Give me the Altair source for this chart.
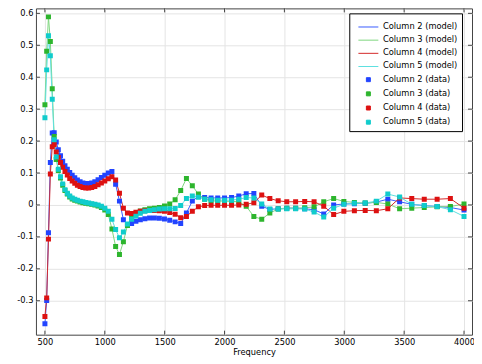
import altair as alt
import pandas as pd

freq = [500.0, 514.7, 529.7, 545.3, 561.2, 577.6, 594.6, 612.0, 630.0, 648.4, 667.4, 687.0,
        707.1, 727.8, 749.2, 771.1, 793.7, 817.0, 840.9, 865.5, 890.9, 917.0, 943.9, 971.5,
        1000.0, 1029.3, 1059.5, 1090.5, 1122.5, 1155.4, 1189.2, 1224.1, 1259.9, 1296.8, 1334.8, 1373.9,
        1414.2, 1455.6, 1498.3, 1542.2, 1587.4, 1633.9, 1681.8, 1731.0, 1781.8, 1834.0, 1887.7, 1943.0,
        2000.0, 2058.6, 2118.9, 2181.0, 2244.9, 2310.7, 2378.4, 2448.1, 2519.8, 2593.7, 2669.6, 2747.9,
        2828.4, 2911.3, 2996.6, 3084.4, 3174.8, 3267.8, 3363.6, 3462.1, 3563.6, 3668.0, 3775.5, 3886.1,
        4000.0]

col2 = [-0.372, -0.299, -0.087, 0.133, 0.225, 0.226, 0.197, 0.173, 0.154, 0.137, 0.123, 0.112,
        0.102, 0.093, 0.085, 0.078, 0.073, 0.069, 0.067, 0.067, 0.069, 0.073, 0.079, 0.086,
        0.093, 0.100, 0.105, 0.065, 0.012, -0.046, -0.063, -0.058, -0.051, -0.046, -0.043, -0.041,
        -0.041, -0.042, -0.044, -0.048, -0.053, -0.058, -0.025, 0.012, 0.027, 0.023, 0.022, 0.022,
        0.022, 0.023, 0.028, 0.035, 0.036, -0.004, -0.014, -0.012, -0.010, -0.010, -0.012, -0.015,
        -0.028, 0.000, 0.003, 0.004, 0.005, 0.009, 0.018, 0.010, 0.002, -0.002, -0.005, -0.008,
        -0.016]

col3 = [0.314, 0.481, 0.589, 0.512, 0.364, 0.214, 0.142, 0.108, 0.084, 0.062, 0.045, 0.034,
        0.025, 0.019, 0.015, 0.012, 0.009, 0.007, 0.005, 0.004, 0.002, 0.000, -0.003, -0.008,
        -0.016, -0.030, -0.075, -0.130, -0.155, -0.115, -0.064, -0.040, -0.028, -0.019, -0.015, -0.012,
        -0.010, -0.008, -0.003, 0.003, 0.016, 0.045, 0.083, 0.060, 0.034, 0.018, 0.013, 0.012,
        0.012, 0.011, 0.010, -0.004, -0.036, -0.045, -0.025, -0.013, -0.010, -0.010, -0.009, -0.006,
        0.010, 0.020, 0.011, 0.008, 0.006, 0.008, 0.003, -0.012, -0.010, -0.008, -0.006, -0.005,
        0.003]

col4 = [-0.349, -0.291, -0.107, 0.097, 0.182, 0.189, 0.166, 0.149, 0.133, 0.118, 0.105, 0.094,
        0.083, 0.075, 0.068, 0.062, 0.058, 0.055, 0.053, 0.053, 0.055, 0.058, 0.063, 0.069,
        0.075, 0.082, 0.088, 0.078, 0.037, -0.010, -0.025, -0.027, -0.023, -0.020, -0.018, -0.017,
        -0.017, -0.018, -0.020, -0.024, -0.029, -0.040, -0.036, -0.020, -0.006, -0.002, -0.001, -0.001,
        -0.001, -0.001, 0.000, 0.002, 0.007, 0.031, 0.020, 0.013, 0.010, 0.010, 0.011, 0.010,
        -0.004, -0.030, -0.020, -0.018, -0.017, -0.018, -0.012, 0.022, 0.020, 0.018, 0.018, 0.020,
        -0.010]

col5 = [0.273, 0.423, 0.530, 0.467, 0.331, 0.204, 0.150, 0.112, 0.088, 0.066, 0.048, 0.037,
        0.028, 0.022, 0.018, 0.015, 0.012, 0.010, 0.008, 0.006, 0.004, 0.002, 0.000, -0.004,
        -0.010, -0.020, -0.045, -0.077, -0.103, -0.085, -0.060, -0.045, -0.035, -0.026, -0.020, -0.017,
        -0.015, -0.013, -0.012, -0.012, -0.011, -0.002, 0.020, 0.028, 0.024, 0.018, 0.016, 0.015,
        0.015, 0.015, 0.018, 0.023, 0.022, 0.003, -0.013, -0.013, -0.012, -0.012, -0.013, -0.022,
        -0.038, -0.010, 0.002, 0.005, 0.006, 0.012, 0.034, 0.025, 0.002, -0.002, -0.005, -0.015,
        -0.036]

model_names = ["Column 2 (model)", "Column 3 (model)", "Column 4 (model)", "Column 5 (model)"]
data_names = ["Column 2 (data)", "Column 3 (data)", "Column 4 (data)", "Column 5 (data)"]
model_colors = ["#3a5cff", "#7fd67f", "#d42a2a", "#5ee0e0"]
data_colors = ["#2244ff", "#2db52d", "#dd1111", "#10cccc"]

x_ticks = [500, 1000, 1500, 2000, 2500, 3000, 3500, 4000]
y_ticks = [-0.3, -0.2, -0.1, 0.0, 0.1, 0.2, 0.3, 0.4, 0.5, 0.6]

rows = []
for m, d, vals in zip(model_names, data_names, [col2, col3, col4, col5]):
    for f, v in zip(freq, vals):
        rows.append({"freq": f, "value": v, "model": m, "data": d})
df = pd.DataFrame(rows)

W, H = 437, 327
FONT = "DejaVu Sans"
FS = 8.3
FRAME = "#444444"

xscale = alt.Scale(domain=[425, 4066.7], nice=False, zero=False)
yscale = alt.Scale(domain=[-0.40625, 0.6156], nice=False, zero=False)
all_names = model_names + data_names
cscale = alt.Scale(domain=all_names, range=model_colors + data_colors)
sscale = alt.Scale(domain=all_names, range=["M-5,0H5"] * 4 + ["square"] * 4)

legend = alt.Legend(
    orient="none", legendX=314, legendY=5, title=" ", titleFontSize=1, titlePadding=4,
    direction="vertical",
    labelFont=FONT, labelFontSize=FS, labelColor="black", labelLimit=300,
    strokeColor="black", fillColor="white", padding=4.5,
    symbolSize=16, symbolStrokeWidth=1, symbolOffset=10.5, labelOffset=10.5,
    rowPadding=4.2, symbolOpacity=1,
)

xaxis = alt.Axis(values=x_ticks, grid=True, ticks=False, domain=False, title="Frequency",
                 format="d", labelPadding=3, titlePadding=1.5)
yaxis = alt.Axis(values=y_ticks, grid=True, ticks=False, domain=False, title=None,
                 labelPadding=3, minExtent=28, maxExtent=28,
                 labelExpr="abs(datum.value) < 1e-9 ? '0' : replace(format(datum.value, '.1f'), '\u2212', '-')")

lines = alt.Chart(df).mark_line(strokeWidth=1, clip=True).encode(
    x=alt.X("freq:Q", scale=xscale, axis=xaxis),
    y=alt.Y("value:Q", scale=yscale, axis=yaxis),
    color=alt.Color("model:N", scale=cscale, legend=legend),
    order="freq:Q",
)

points = alt.Chart(df).mark_point(filled=True, size=25, opacity=1, clip=True).encode(
    x=alt.X("freq:Q", scale=xscale, axis=xaxis),
    y=alt.Y("value:Q", scale=yscale, axis=yaxis),
    color=alt.Color("data:N", scale=cscale, legend=legend),
    shape=alt.Shape("data:N", scale=sscale, legend=legend),
)

xt = pd.DataFrame({"freq": x_ticks})
yt = pd.DataFrame({"value": y_ticks})

top_ticks = alt.Chart(xt).mark_rule(color=FRAME, strokeWidth=1).encode(
    x=alt.X("freq:Q", scale=xscale, axis=xaxis), y=alt.value(0), y2=alt.value(4))
bottom_ticks = alt.Chart(xt).mark_rule(color=FRAME, strokeWidth=1).encode(
    x=alt.X("freq:Q", scale=xscale, axis=xaxis), y=alt.value(H), y2=alt.value(H - 4))
left_ticks = alt.Chart(yt).mark_rule(color=FRAME, strokeWidth=1).encode(
    y=alt.Y("value:Q", scale=yscale, axis=yaxis), x=alt.value(0), x2=alt.value(4))
right_ticks = alt.Chart(yt).mark_rule(color=FRAME, strokeWidth=1).encode(
    y=alt.Y("value:Q", scale=yscale, axis=yaxis), x=alt.value(W), x2=alt.value(W - 4))

chart = alt.layer(lines, points, top_ticks, bottom_ticks, left_ticks, right_ticks).properties(
    width=W, height=H,
    padding={"left": 28, "top": 0, "right": 2, "bottom": 26},
    autosize=alt.AutoSizeParams(type="none"),
    background="white",
).configure_view(
    stroke=FRAME, strokeWidth=1
).configure_axis(
    labelFont=FONT, labelFontSize=FS, labelColor="black",
    titleFont=FONT, titleFontSize=FS, titleColor="black", titleFontWeight="normal",
    gridColor="#e4e4e4", gridWidth=1,
)

chart.save("out.html", embed_options={"renderer": "svg", "actions": False})
